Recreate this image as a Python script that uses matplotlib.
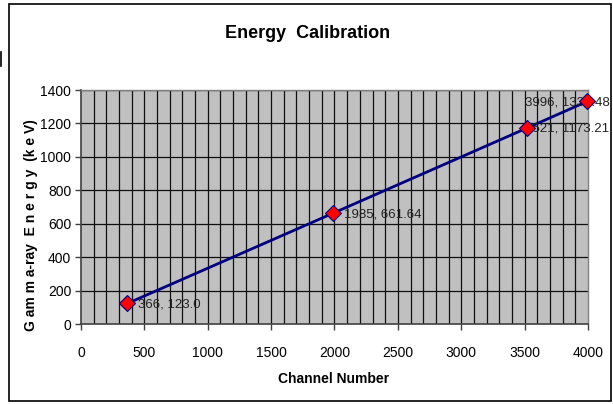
import matplotlib
matplotlib.use("Agg")
import matplotlib.pyplot as plt
from matplotlib.patches import Rectangle
from matplotlib.lines import Line2D

channels = [366, 1985, 3521, 3996]
energies = [123.0, 661.64, 1173.21, 1332.48]
labels = ["366, 123.0", "1985, 661.64", "3521, 1173.21", "3996, 1332.48"]
xticks = [0, 500, 1000, 1500, 2000, 2500, 3000, 3500, 4000]
yticks = [0, 200, 400, 600, 800, 1000, 1200, 1400]

plt.rcParams['font.family'] = ['Liberation Sans', 'DejaVu Sans']

W, H = 613, 404
fig = plt.figure(figsize=(W / 100, H / 100), dpi=100)
fig.patch.set_facecolor('white')

# outer chart frame
fig.add_artist(Rectangle((9 / W, 1 - 401 / H), (611 - 9) / W, (401 - 4) / H,
                         transform=fig.transFigure, fill=False,
                         edgecolor='black', linewidth=1.2))
fig.add_artist(Line2D([1 / W, 1 / W], [1 - 52 / H, 1 - 66 / H],
                      transform=fig.transFigure, color='black', linewidth=1.2))

ax = fig.add_axes([81 / W, 1 - 324 / H, (588 - 81) / W, (324 - 90) / H])
ax.set_facecolor('#C0C0C0')
ax.set_xlim(0, 4000)
ax.set_ylim(0, 1400)

# grid
for xv in range(100, 4000, 100):
    ax.axvline(xv, color='#101010', linewidth=0.9, zorder=1)
for yv in yticks[1:]:
    ax.axhline(yv, color='#101010', linewidth=0.9, zorder=1)

ax.plot(channels, energies, color='#000080', linewidth=2, zorder=3)

# data labels (drawn under markers, as in the reference)
offsets = [(11, 'left'), (11, 'left'), (-2, 'left'), (22, 'right')]
for x, y, t, (dx, ha) in zip(channels, energies, labels, offsets):
    ax.annotate(t, (x, y), xytext=(dx, -1), textcoords='offset pixels',
                fontsize=9.5, color='#222222', va='center', ha=ha, zorder=3.5,
                annotation_clip=False)

ax.plot(channels, energies, linestyle='none', marker='D', markersize=8,
        markerfacecolor='red', markeredgecolor='#000080', markeredgewidth=0.8,
        zorder=4, clip_on=False)

ax.set_xticks(xticks)
ax.set_yticks(yticks)
ax.tick_params(axis='both', direction='out', length=4, width=1, color='#404040',
               labelsize=10, pad=12)
ax.tick_params(axis='y', pad=3)
for side in ['left', 'bottom']:
    ax.spines[side].set_color('#404040')
    ax.spines[side].set_linewidth(1.2)
for side in ['top', 'right']:
    ax.spines[side].set_color('#808080')
    ax.spines[side].set_linewidth(1.0)

fig.text(334 / W, 1 - 379 / H, 'Channel Number', fontsize=10, fontweight='bold',
         ha='center', va='center')
fig.text(31 / W, 1 - 225 / H, 'G am m a-ray  E n e r g y  (k e V)', fontsize=10,
         fontweight='bold', rotation=90, ha='center', va='center')
fig.text(308 / W, 1 - 34 / H, 'Energy  Calibration', fontsize=13, fontweight='bold',
         ha='center', va='center')

fig.savefig('out.png', dpi=100)
